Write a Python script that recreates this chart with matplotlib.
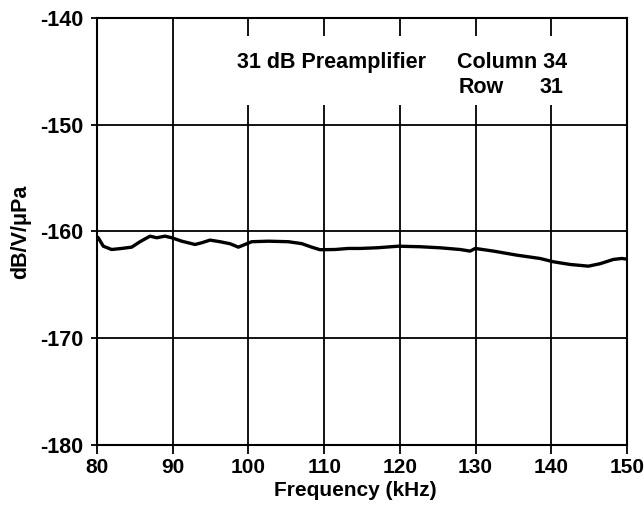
import matplotlib

matplotlib.use("Agg")
import matplotlib.pyplot as plt
from matplotlib.patches import Rectangle

plt.rcParams["font.family"] = ["Liberation Sans", "DejaVu Sans"]
plt.rcParams["font.weight"] = "bold"
plt.rcParams["axes.labelweight"] = "bold"
plt.rcParams["axes.unicode_minus"] = False

# Response curve
freq_khz = [80.0, 80.17, 80.83, 81.94, 83.26, 84.58, 85.68, 87.0, 87.89, 88.98,
            89.87, 91.19, 92.95, 93.83, 94.93, 96.25, 97.58, 98.67, 99.33,
            100.44, 102.63, 105.27, 107.04, 108.36, 109.46, 111.44, 113.2,
            114.74, 116.95, 119.8, 122.68, 125.32, 127.96, 129.29, 129.95,
            132.37, 135.46, 138.52, 140.28, 142.48, 144.9, 146.45, 148.2,
            149.31, 150.0]
level_db = [-160.5, -160.59, -161.38, -161.69, -161.59, -161.47, -160.96,
            -160.44, -160.59, -160.44, -160.59, -160.91, -161.22, -161.06,
            -160.81, -160.96, -161.15, -161.47, -161.28, -160.96, -160.91,
            -160.96, -161.14, -161.47, -161.71, -161.69, -161.59, -161.59,
            -161.53, -161.38, -161.43, -161.53, -161.69, -161.84, -161.59,
            -161.84, -162.22, -162.53, -162.84, -163.09, -163.25, -163.02,
            -162.62, -162.53, -162.59]

x_ticks = [80, 90, 100, 110, 120, 130, 140, 150]
y_ticks = [-180, -170, -160, -150, -140]

fig = plt.figure(figsize=(6.44, 5.13), dpi=100)
ax = fig.add_axes([0.1506, 0.1326, 0.823, 0.8324])

ax.plot(freq_khz, level_db, color="black", lw=2.4, zorder=4,
        solid_joinstyle="round", solid_capstyle="round")

ax.set_xlim(80, 150)
ax.set_ylim(-180, -140)
ax.set_xticks(x_ticks)
ax.set_yticks(y_ticks)
ax.grid(True, color="black", lw=1.3)
ax.set_axisbelow(True)
for s in ax.spines.values():
    s.set_linewidth(1.5)

ax.tick_params(axis="x", length=6.5, width=1.3, pad=3, labelsize=15)
ax.tick_params(axis="y", length=4, width=1.3, pad=6, labelsize=15.5)

# white patch behind the annotation hides the grid lines there
ax.add_patch(Rectangle((95.5, -148.2), 50.5, 6.5, facecolor="white",
                       edgecolor="none", zorder=2))
ax.text(98.5, -144.7, "31 dB Preamplifier", fontsize=15.5, zorder=5)
ax.text(127.6, -144.7, "Column 34", fontsize=15.5, zorder=5)
ax.text(127.7, -147.05, "Row", fontsize=15.5, zorder=5)
ax.text(141.6, -147.05, "31", fontsize=15.5, ha="right", zorder=5)

ax.set_xlabel("Frequency (kHz)", fontsize=15, labelpad=3, x=0.488)
ax.set_ylabel("dB/V/\u03bcPa", fontsize=15.5, labelpad=6)

fig.savefig("out.png", dpi=100)
